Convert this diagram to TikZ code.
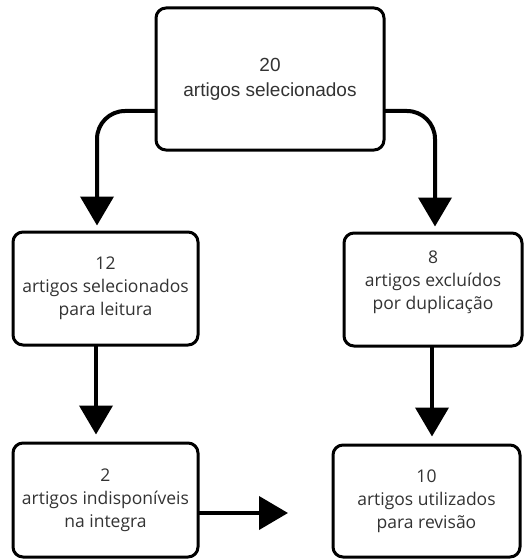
\documentclass[tikz,border=0pt]{standalone}
\usepackage{fontspec}
\setmainfont{Open Sans}
\newfontfamily\arialfont{Liberation Sans}
\usetikzlibrary{arrows.meta,positioning}

\begin{document}
\begin{tikzpicture}[x=1pt, y=-1pt, line cap=round, line join=round,
    box/.style={draw, line width=3pt, rounded corners=10pt, fill=white,
      text=black!80, align=center, font=\fontsize{17.5}{23}\selectfont,
      inner sep=4pt},
    flow/.style={line width=4pt, rounded corners=28pt,
      -{Triangle[length=29pt,width=33pt]}}]

  \useasboundingbox (0,0) rectangle (524,559);

  %--------------------------
  % Boxes
  %--------------------------
  \node[box, minimum width=228pt, minimum height=142pt,
    font=\arialfont\fontsize{19}{25}\selectfont] (top) at (270,79)
    {20\\artigos selecionados};

  \node[box, minimum width=185pt, minimum height=113pt] (midl) at (105.5,288.5)
    {12\\artigos selecionados\\para leitura};
  \node[box, minimum width=178pt, minimum height=113pt] (midr) at (433,289.5)
    {8\\artigos excluídos\\por duplicação\\[-4pt]};

  \node[box, minimum width=185pt, minimum height=114pt] (botl) at (105.5,500)
    {2\\artigos indisponíveis\\na integra};
  \node[box, minimum width=187pt, minimum height=112pt] (botr) at (426.5,501)
    {10\\artigos utilizados\\para revisão};

  %--------------------------
  % Connectors
  %--------------------------
  \draw[flow, shorten >=5pt] ([yshift=-32pt]top.west) -| ([xshift=-8.5pt]midl.north);
  \draw[flow, shorten >=5pt] ([yshift=-32pt]top.east) -| ([xshift=2pt]midr.north);

  \draw[flow, shorten >=7pt] ([xshift=-9.5pt]midl.south) -- ([xshift=-9.5pt]botl.north);
  \draw[flow, shorten >=7pt] ([xshift=-1pt]midr.south) -- ([xshift=5.5pt]botr.north);

  \coordinate (gap) at (288,513);
  \draw[flow] ([yshift=-13pt]botl.east) -- (gap);

\end{tikzpicture}
\end{document}
